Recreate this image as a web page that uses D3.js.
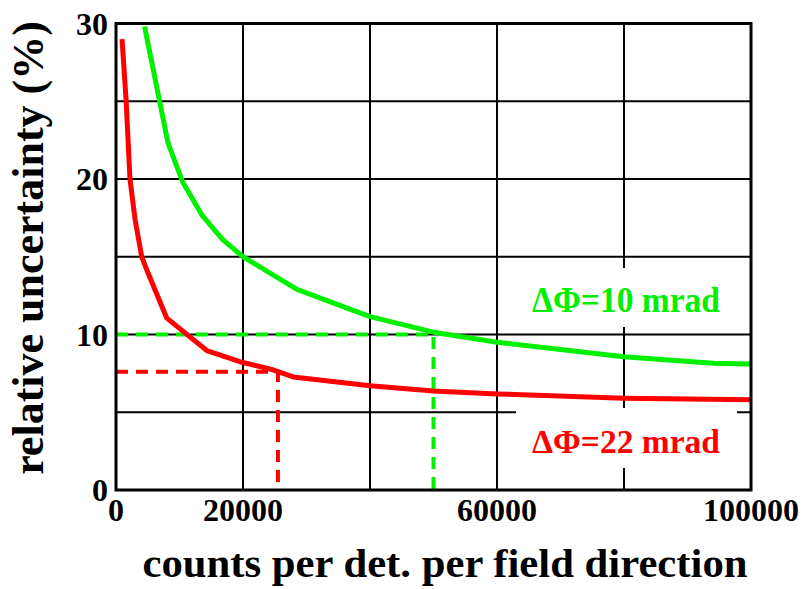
<!DOCTYPE html>
<html>
<head>
<meta charset="utf-8">
<script src="https://cdn.jsdelivr.net/npm/d3@7"></script>
<style>
  body { margin: 0; background: #fff; }
</style>
</head>
<body>
<svg id="chart" width="805" height="589"></svg>
<script>
// counts per detector per field direction vs relative uncertainty (%)
const greenCounts = [4500, 8200, 10500, 13500, 16800, 20000, 28500, 40000, 50000, 60000, 80000, 94000, 100000];
const greenUnc    = [29.8, 22.3, 19.8, 17.7, 16.1, 15.0, 12.9, 11.15, 10.15, 9.5, 8.57, 8.15, 8.1];

const redCounts = [950, 1600, 2200, 3000, 4050, 5000, 8000, 14300, 19500, 24700, 27900, 40000, 50000, 60000, 80000, 100000];
const redUnc    = [29.0, 25.0, 20.0, 17.4, 15.0, 14.0, 11.05, 8.97, 8.25, 7.73, 7.27, 6.7, 6.37, 6.18, 5.9, 5.8];

// dashed read-off markers: [counts, uncertainty]
const greenMark = [50000, 10];
const redMark = [25500, 7.6];

const xTicks = [0, 20000, 60000, 100000];
const yTicks = [0, 10, 20, 30];
const xGrid = [20000, 40000, 60000, 80000];
const yGrid = [5, 10, 15, 20, 25];

const greenLabel = 'ΔΦ=10 mrad';
const redLabel = 'ΔΦ=22 mrad';

const serif = 'Liberation Serif';

const svg = d3.select('#chart');

const x = d3.scaleLinear().domain([0, 100000]).range([116, 751]);
const y = d3.scaleLinear().domain([0, 30]).range([490, 23.5]);

const green = '#00f000';
const red = '#ff0000';

// grid
svg.append('g').selectAll('line')
    .data(xGrid)
    .enter().append('line')
    .attr('x1', d => x(d)).attr('x2', d => x(d))
    .attr('y1', y(30)).attr('y2', y(0))
    .attr('stroke', '#000').attr('stroke-width', 2);

svg.append('g').selectAll('line')
    .data(yGrid)
    .enter().append('line')
    .attr('x1', x(0)).attr('x2', x(100000))
    .attr('y1', d => y(d)).attr('y2', d => y(d))
    .attr('stroke', '#000').attr('stroke-width', 2);

// white boxes behind the labels
svg.append('rect').attr('x', 516).attr('y', 268).attr('width', 221).attr('height', 59).attr('fill', '#fff');
svg.append('rect').attr('x', 516).attr('y', 408).attr('width', 221).attr('height', 60).attr('fill', '#fff');

// dashed markers
function markPath(m) {
    return d3.line().x(d => x(d[0])).y(d => y(d[1]))([[0, m[1]], [m[0], m[1]], [m[0], 0]]);
}
svg.append('path').attr('d', markPath(greenMark))
    .attr('fill', 'none').attr('stroke', green).attr('stroke-width', 4).attr('stroke-dasharray', '12,8');
svg.append('path').attr('d', markPath(redMark))
    .attr('fill', 'none').attr('stroke', red).attr('stroke-width', 4).attr('stroke-dasharray', '12,8');

// curves
const line = d3.line().x(d => x(d[0])).y(d => y(d[1]));
svg.append('path').attr('d', line(d3.zip(greenCounts, greenUnc)))
    .attr('fill', 'none').attr('stroke', green).attr('stroke-width', 5).attr('stroke-linejoin', 'round');
svg.append('path').attr('d', line(d3.zip(redCounts, redUnc)))
    .attr('fill', 'none').attr('stroke', red).attr('stroke-width', 5).attr('stroke-linejoin', 'round');

// frame
svg.append('rect')
    .attr('x', x(0)).attr('y', y(30))
    .attr('width', x(100000) - x(0)).attr('height', y(0) - y(30))
    .attr('fill', 'none').attr('stroke', '#000').attr('stroke-width', 3);

// tick labels
svg.append('g').selectAll('text')
    .data(yTicks)
    .enter().append('text')
    .attr('x', 108).attr('y', d => y(d) + 11)
    .attr('text-anchor', 'end')
    .attr('font-family', serif).attr('font-weight', 'bold')
    .attr('font-size', 32)
    .text(d => d);

svg.append('g').selectAll('text')
    .data(xTicks)
    .enter().append('text')
    .attr('x', d => x(d)).attr('y', 521)
    .attr('text-anchor', 'middle')
    .attr('font-family', serif).attr('font-weight', 'bold')
    .attr('font-size', 32)
    .text(d => d);

// series labels
svg.append('text').attr('x', 626).attr('y', 312)
    .attr('text-anchor', 'middle').attr('font-size', 35)
    .attr('font-family', serif).attr('font-weight', 'bold')
    .attr('textLength', 188).attr('lengthAdjust', 'spacingAndGlyphs')
    .attr('fill', green).text(greenLabel);
svg.append('text').attr('x', 626).attr('y', 453)
    .attr('text-anchor', 'middle').attr('font-size', 33)
    .attr('font-family', serif).attr('font-weight', 'bold')
    .attr('textLength', 188).attr('lengthAdjust', 'spacingAndGlyphs')
    .attr('fill', red).text(redLabel);

// axis titles
svg.append('text').attr('x', 445).attr('y', 577)
    .attr('text-anchor', 'middle').attr('font-size', 40)
    .attr('font-family', serif).attr('font-weight', 'bold')
    .attr('textLength', 605).attr('lengthAdjust', 'spacingAndGlyphs')
    .text('counts per det. per field direction');

svg.append('text')
    .attr('transform', 'translate(43,248) rotate(-90)')
    .attr('text-anchor', 'middle').attr('font-size', 44)
    .attr('font-family', serif).attr('font-weight', 'bold')
    .text('relative uncertainty (%)');
</script>
</body>
</html>
